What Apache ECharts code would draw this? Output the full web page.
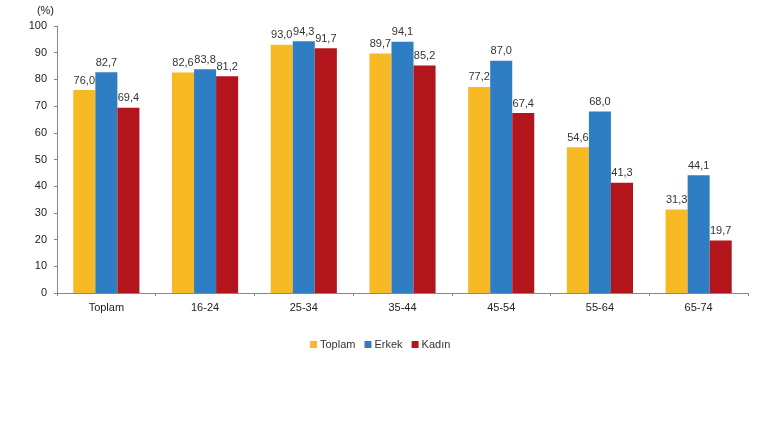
<!DOCTYPE html>
<html>
<head>
<meta charset="utf-8">
<script src="https://cdn.jsdelivr.net/npm/echarts@6/dist/echarts.min.js"></script>
<style>
    html, body { margin: 0; padding: 0; background: #fff; }
    #chart { width: 760px; height: 430px; }
</style>
</head>
<body>
<div id="chart"></div>
<script type="text/javascript">
    // kategoriler ve seriler
    var categories = ["Toplam", "16-24", "25-34", "35-44", "45-54", "55-64", "65-74"];
    var toplam = [76.0, 82.6, 93.0, 89.7, 77.2, 54.6, 31.3];
    var erkek = [82.7, 83.8, 94.3, 94.1, 87.0, 68.0, 44.1];
    var kadin = [69.4, 81.2, 91.7, 85.2, 67.4, 41.3, 19.7];
    var seriesNames = ["Toplam", "Erkek", "Kadın"];
    var colors = ["#F7B924", "#2F7EC4", "#B3151C"];

    var fmt = function (p) {
        return p.value.toFixed(1).replace(".", ",");
    };

    function bar(name, data, color) {
        return {
            name: name,
            type: "bar",
            data: data,
            barGap: "0%",
            barCategoryGap: "33%",
            itemStyle: { color: color },
            label: {
                show: true,
                position: "top",
                distance: 4,
                formatter: fmt,
                color: "#333",
                fontSize: 11,
                fontFamily: "Liberation Sans"
            }
        };
    }

    var myChart = echarts.init(document.getElementById("chart"));
    myChart.setOption({
        animation: false,
        textStyle: { fontFamily: "Liberation Sans" },
        grid: { left: 57, right: 12, top: 26, bottom: 137 },
        legend: {
            data: seriesNames,
            bottom: 75,
            left: 305,
            itemWidth: 7,
            itemHeight: 7,
            itemGap: 9,
            icon: "rect",
            textStyle: { color: "#333", fontSize: 11, padding: [0, 0, 0, -2] },
            selectedMode: false
        },
        xAxis: {
            type: "category",
            data: categories,
            axisLine: { lineStyle: { color: "#888" } },
            axisTick: { show: true, length: 3, lineStyle: { color: "#888" } },
            axisLabel: { color: "#222", fontSize: 11, margin: 9 }
        },
        yAxis: {
            type: "value",
            min: 0,
            max: 100,
            interval: 10,
            name: "(%)",
            nameLocation: "end",
            nameGap: 10,
            nameTextStyle: { color: "#222", fontSize: 11, align: "right", padding: [0, 3, 0, 0] },
            splitLine: { show: false },
            axisLine: { show: true, lineStyle: { color: "#888" } },
            axisTick: { show: true, length: 3, lineStyle: { color: "#888" } },
            axisLabel: { color: "#222", fontSize: 11, margin: 10 }
        },
        series: [
            bar(seriesNames[0], toplam, colors[0]),
            bar(seriesNames[1], erkek, colors[1]),
            bar(seriesNames[2], kadin, colors[2])
        ]
    });
</script>
</body>
</html>
